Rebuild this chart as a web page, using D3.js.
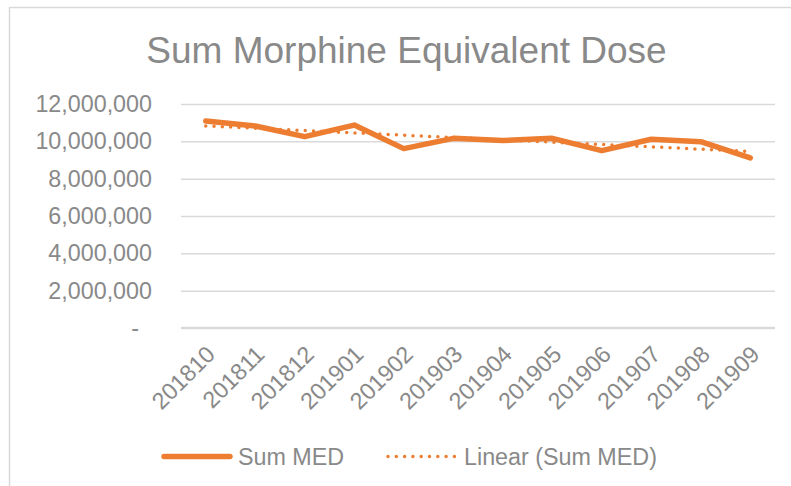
<!DOCTYPE html>
<html>
<head>
<meta charset="utf-8">
<script src="https://cdn.jsdelivr.net/npm/d3@7"></script>
<style>
  html, body { margin: 0; padding: 0; background: #fff; }
  svg { display: block; font-family: "Liberation Sans", Arial, sans-serif; }
</style>
</head>
<body>
<script>
// data
var months = ['201810', '201811', '201812', '201901', '201902', '201903',
              '201904', '201905', '201906', '201907', '201908', '201909'];
var sumMED = [11090000, 10820000, 10250000, 10870000, 9610000, 10160000,
              10040000, 10160000, 9500000, 10110000, 9980000, 9110000];
var yTicks = [0, 2000000, 4000000, 6000000, 8000000, 10000000, 12000000];
var title = 'Sum Morphine Equivalent Dose';
var legendNames = ['Sum MED', 'Linear (Sum MED)'];

var W = 791, H = 486;
var orange = '#ED7D31', grey = '#898989', gridC = '#d9d9d9';

var svg = d3.select('body').append('svg')
    .attr('width', W)
    .attr('height', H);

// chart area frame (right/bottom fall outside the picture)
svg.append('rect')
    .attr('x', 9.5).attr('y', 7.5)
    .attr('width', W + 20).attr('height', H + 20)
    .attr('fill', '#fff')
    .attr('stroke', gridC)
    .attr('stroke-width', 1.5);

var x = d3.scalePoint().domain(months).range([181, 775]).padding(0.5);
var y = d3.scaleLinear().domain([0, 12000000]).range([328, 104]);

// gridlines
svg.append('g')
    .attr('transform', 'translate(181,0)')
    .call(d3.axisLeft(y).tickValues(yTicks.slice(1)).tickSize(-594).tickFormat(''))
    .call(function (g) { g.select('.domain').remove(); })
    .selectAll('line')
        .attr('stroke', gridC)
        .attr('stroke-width', 1.5);

// category axis line
svg.append('line')
    .attr('x1', 181).attr('x2', 775)
    .attr('y1', y(0)).attr('y2', y(0))
    .attr('stroke', gridC)
    .attr('stroke-width', 2.5);

// y labels
var fmt = d3.format(',');
svg.append('g')
    .attr('transform', 'translate(152,0)')
    .call(d3.axisLeft(y).tickValues(yTicks).tickSize(0).tickPadding(0)
        .tickFormat(function (d) { return d === 0 ? '-' : fmt(d); }))
    .call(function (g) { g.select('.domain').remove(); })
    .selectAll('text')
        .attr('fill', grey)
        .style('font-size', '23.3px')
        .attr('x', function (d) { return d === 0 ? -13 : 0; });

// x labels, rotated
svg.append('g')
    .selectAll('text')
    .data(months)
    .enter().append('text')
        .attr('transform', function (d) { return 'translate(' + (x(d) + 5) + ',350) rotate(-45)'; })
        .attr('text-anchor', 'end')
        .attr('dy', '0.35em')
        .attr('fill', grey)
        .style('font-size', '23.3px')
        .text(function (d) { return d; });

// linear trend of the series (least squares, as the spreadsheet draws it)
var n = sumMED.length;
var mx = d3.mean(sumMED, function (d, i) { return i; });
var my = d3.mean(sumMED);
var sxy = d3.sum(sumMED, function (d, i) { return (i - mx) * (d - my); });
var sxx = d3.sum(sumMED, function (d, i) { return (i - mx) * (i - mx); });
var slope = sxy / sxx;
var trend = [0, n - 1].map(function (i) { return { m: months[i], v: my + slope * (i - mx) }; });

svg.append('path')
    .datum(trend)
    .attr('d', d3.line().x(function (d) { return x(d.m); }).y(function (d) { return y(d.v); }))
    .attr('fill', 'none')
    .attr('stroke', orange)
    .attr('stroke-width', 3.5)
    .attr('stroke-linecap', 'round')
    .attr('stroke-dasharray', '0 8.3');

svg.append('path')
    .datum(sumMED)
    .attr('d', d3.line().x(function (d, i) { return x(months[i]); }).y(function (d) { return y(d); }))
    .attr('fill', 'none')
    .attr('stroke', orange)
    .attr('stroke-width', 5.5)
    .attr('stroke-linejoin', 'round')
    .attr('stroke-linecap', 'round');

// title
svg.append('text')
    .attr('x', 406.5).attr('y', 63)
    .attr('text-anchor', 'middle')
    .attr('fill', grey)
    .style('font-size', '37px')
    .text(title);

// legend
var lg = svg.append('g').style('font-size', '23.3px');
lg.append('line')
    .attr('x1', 164).attr('x2', 230).attr('y1', 456.5).attr('y2', 456.5)
    .attr('stroke', orange).attr('stroke-width', 5.5).attr('stroke-linecap', 'round');
lg.append('text').attr('x', 238).attr('y', 456.5).attr('dy', '0.35em')
    .attr('fill', grey).text(legendNames[0]);
lg.append('line')
    .attr('x1', 388).attr('x2', 455).attr('y1', 456.5).attr('y2', 456.5)
    .attr('stroke', orange).attr('stroke-width', 3.5)
    .attr('stroke-linecap', 'round').attr('stroke-dasharray', '0 8.3');
lg.append('text').attr('x', 464).attr('y', 456.5).attr('dy', '0.35em')
    .attr('fill', grey).text(legendNames[1]);
</script>
</body>
</html>
